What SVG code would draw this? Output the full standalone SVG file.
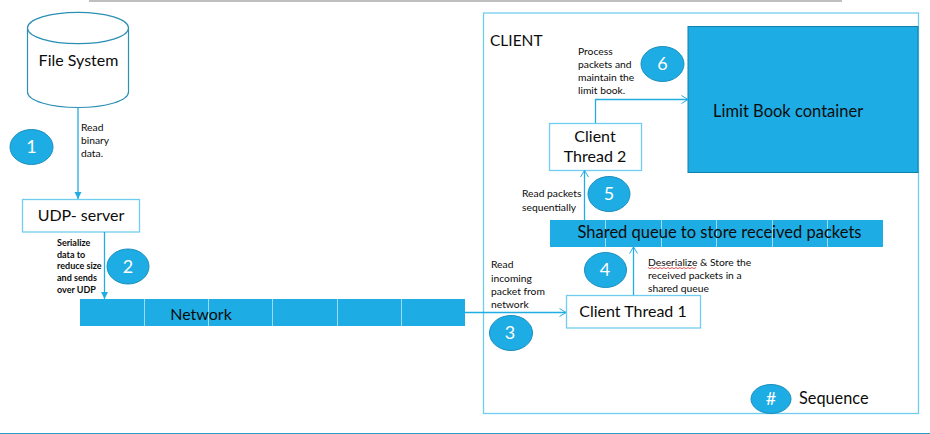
<svg xmlns="http://www.w3.org/2000/svg" width="930" height="434" viewBox="0 0 930 434">
<style>
text{font-family:Lato,"Liberation Sans",sans-serif;fill:#0c0c0c}
.box{fill:#fff;stroke:#71cdef;stroke-width:1.3}
.band{fill:#1eace4}
.div{stroke:#9bdcf4;stroke-width:1}
.badge{fill:#1eace4;stroke:#1b8fbe;stroke-width:1}
.num{fill:#fff;font-size:18px;text-anchor:middle}
.big{font-size:16px}
.wide{font-size:16.500px}
.lab{font-size:10.300px}
.link{fill:none;stroke:#22ace4;stroke-width:1.3}
</style>
<defs>
<marker id="solid" markerUnits="userSpaceOnUse" markerWidth="10" markerHeight="10" refX="8" refY="5" orient="auto"><path d="M1 1.500L8 5L1 8.500Z" fill="#22ace4"/></marker>
<marker id="open" markerUnits="userSpaceOnUse" markerWidth="10" markerHeight="12" refX="8" refY="6" orient="auto"><path d="M1.500 2L8 6L1.500 10" fill="none" stroke="#22ace4" stroke-width="1"/></marker>
</defs>
<rect width="930" height="434" fill="#fff"/>
<path d="M89 1H842" stroke="#808080" stroke-width="1.200"/>
<path d="M0 433.500H930" stroke="#2a9cc4" stroke-width="1"/>
<g id="client"><rect class="box" x="483.500" y="13" width="435" height="400.500"/><text x="490" y="46" font-size="15.500">CLIENT</text></g>
<g id="limit-book"><rect x="688" y="26.500" width="230" height="146" fill="#1eace4" stroke="#107fa9" stroke-width="1"/><text class="wide" x="713" y="117">Limit Book container</text></g>
<g id="file-system">
<path d="M27.500 28V92C27.500 100.700 50 107.500 78 107.500S128.500 100.700 128.500 92V28" fill="#fff" stroke="#2c8fb4" stroke-width="1.200"/>
<ellipse cx="78" cy="28" rx="50.500" ry="15.700" fill="#fff" stroke="#2c8fb4" stroke-width="1.200"/>
<text class="big" x="78.500" y="66" text-anchor="middle">File System</text></g>
<g id="udp-server"><rect class="box" x="22.500" y="199.500" width="117" height="32.500"/><text class="big" x="81" y="221" text-anchor="middle">UDP- server</text></g>
<g id="network"><rect class="band" x="80" y="299" width="385" height="27"/><path class="div" d="M144.500 299V326M208.500 299V326M272.500 299V326M337.500 299V326M401.500 299V326"/><text class="big" x="201" y="319.500" text-anchor="middle">Network</text></g>
<g id="client-thread-1"><rect class="box" x="566.500" y="295.500" width="134" height="32.500"/><text class="big" x="633" y="317" text-anchor="middle">Client Thread 1</text></g>
<g id="shared-queue"><rect class="band" x="550" y="220" width="333" height="27"/><path class="div" d="M605.500 220V247M661.500 220V247M716.500 220V247M772.500 220V247M827.500 220V247"/><text class="wide" x="719.500" y="238" text-anchor="middle">Shared queue to store received packets</text></g>
<g id="client-thread-2"><rect class="box" x="549.500" y="123.500" width="92" height="47"/><text class="big" x="595" y="142" text-anchor="middle">Client</text><text class="big" x="595" y="162" text-anchor="middle">Thread 2</text></g>
<g id="connectors">
<path class="link" d="M78 107.500V199" marker-end="url(#solid)"/>
<path class="link" d="M104.500 232V299" marker-end="url(#solid)"/>
<path class="link" d="M465 312.500H566" marker-end="url(#open)"/>
<path class="link" d="M633.500 295V247" marker-end="url(#open)"/>
<path class="link" d="M584.500 220V170.500" marker-end="url(#open)"/>
<path class="link" d="M595.500 123V99.500H688" marker-end="url(#open)"/>
</g>
<g id="badge-1"><ellipse class="badge" cx="31.500" cy="147" rx="21.500" ry="17.500"/><text class="num" x="31.500" y="153">1</text></g>
<g id="badge-2"><ellipse class="badge" cx="128" cy="266.500" rx="21" ry="17.500"/><text class="num" x="128" y="272.500">2</text></g>
<g id="badge-3"><ellipse class="badge" cx="511" cy="333" rx="21.500" ry="17.500"/><text class="num" x="510" y="339">3</text></g>
<g id="badge-4"><ellipse class="badge" cx="605.500" cy="270" rx="21" ry="17.500"/><text class="num" x="605" y="276">4</text></g>
<g id="badge-5"><ellipse class="badge" cx="609" cy="194" rx="21" ry="17.500"/><text class="num" x="609" y="200">5</text></g>
<g id="badge-6"><ellipse class="badge" cx="662.500" cy="64" rx="21.500" ry="17.500"/><text class="num" x="662.500" y="70">6</text></g>
<g id="badge-seq"><ellipse class="badge" cx="771" cy="399" rx="20" ry="14.500"/><text class="num" x="771" y="405">#</text><text x="799" y="404" font-size="16.300">Sequence</text></g>
<g id="labels">
<text class="lab" x="81" y="131">Read</text><text class="lab" x="81" y="144">binary</text><text class="lab" x="81" y="157">data.</text>
<g font-weight="700" style="font-size:9px"><text x="57" y="246">Serialize</text><text x="57" y="258">data to</text><text x="57" y="269">reduce size</text><text x="57" y="281">and sends</text><text x="57" y="293">over UDP</text></g>
<text class="lab" x="491" y="268">Read</text><text class="lab" x="491" y="282">incoming</text><text class="lab" x="491" y="295">packet from</text><text class="lab" x="491" y="308">network</text>
<text class="lab" x="648" y="266">Deserialize &amp; Store the</text><text class="lab" x="648" y="279">received packets in a</text><text class="lab" x="648" y="292">shared queue</text>
<path d="M648 267.500l2 1.200 2-1.200 2 1.200 2-1.200 2 1.200 2-1.200 2 1.200 2-1.200 2 1.200 2-1.200 2 1.200 2-1.200 2 1.200 2-1.200 2 1.200 2-1.200 2 1.200 2-1.200 2 1.200 2-1.200 2 1.200 2-1.200 2 1.200 2-1.200" fill="none" stroke="#e03030" stroke-width=".8"/>
<text class="lab" x="522" y="197">Read packets</text><text class="lab" x="522" y="211">sequentially</text>
<text class="lab" x="578" y="55">Process</text><text class="lab" x="578" y="68">packets and</text><text class="lab" x="578" y="81">maintain the</text><text class="lab" x="578" y="94">limit book.</text>
</g>
</svg>
